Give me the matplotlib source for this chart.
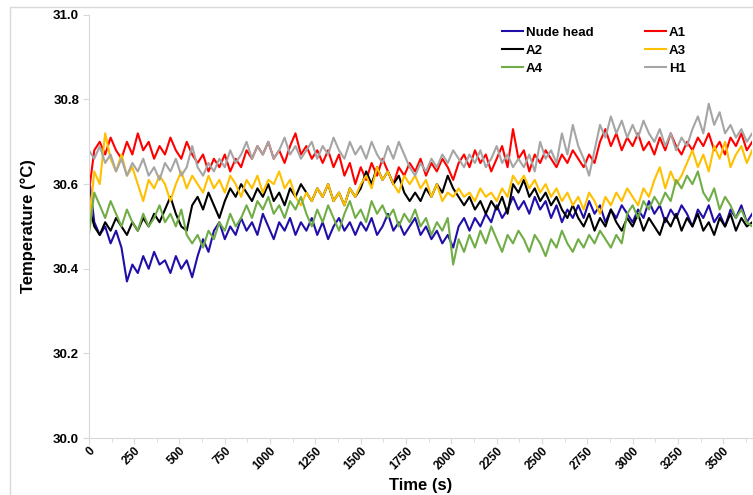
import numpy as np
import matplotlib
matplotlib.use("Agg")
import matplotlib.pyplot as plt
from matplotlib.ticker import MultipleLocator, FormatStrFormatter

## READINGS (every 30 s)
time_s_ = np.arange(0, 3661, 30)

nude_head_ = [30.62, 30.51, 30.48, 30.50, 30.46, 30.49, 30.45, 30.37, 30.41, 30.39,
              30.43, 30.40, 30.44, 30.41, 30.42, 30.39, 30.43, 30.40, 30.42, 30.38,
              30.43, 30.47, 30.44, 30.49, 30.51, 30.47, 30.50, 30.48, 30.52, 30.49,
              30.51, 30.48, 30.53, 30.50, 30.47, 30.51, 30.49, 30.52, 30.48, 30.51,
              30.49, 30.52, 30.48, 30.51, 30.47, 30.50, 30.52, 30.49, 30.51, 30.48,
              30.51, 30.49, 30.52, 30.48, 30.50, 30.53, 30.49, 30.51, 30.48, 30.50,
              30.52, 30.48, 30.50, 30.47, 30.49, 30.46, 30.48, 30.45, 30.50, 30.52,
              30.49, 30.52, 30.50, 30.53, 30.51, 30.55, 30.52, 30.54, 30.57, 30.54,
              30.56, 30.53, 30.57, 30.54, 30.56, 30.52, 30.55, 30.51, 30.54, 30.52,
              30.55, 30.52, 30.56, 30.53, 30.55, 30.51, 30.54, 30.52, 30.55, 30.53,
              30.51, 30.54, 30.52, 30.56, 30.53, 30.55, 30.51, 30.54, 30.52, 30.55,
              30.53, 30.50, 30.54, 30.52, 30.55, 30.51, 30.53, 30.50, 30.54, 30.52,
              30.55, 30.51, 30.53]

a1_ = [30.58, 30.68, 30.70, 30.67, 30.71, 30.68, 30.66, 30.70, 30.67, 30.72,
       30.68, 30.70, 30.66, 30.69, 30.67, 30.71, 30.68, 30.66, 30.70, 30.67,
       30.65, 30.67, 30.63, 30.66, 30.64, 30.67, 30.63, 30.66, 30.64, 30.68,
       30.66, 30.69, 30.67, 30.70, 30.66, 30.68, 30.65, 30.69, 30.72, 30.67,
       30.69, 30.66, 30.68, 30.65, 30.68, 30.64, 30.67, 30.62, 30.65, 30.60,
       30.64, 30.61, 30.65, 30.62, 30.66, 30.63, 30.60, 30.64, 30.62, 30.65,
       30.63, 30.66, 30.62, 30.65, 30.63, 30.66, 30.64, 30.61, 30.65, 30.67,
       30.64, 30.68, 30.65, 30.67, 30.63, 30.66, 30.69, 30.64, 30.73, 30.66,
       30.68, 30.63, 30.67, 30.65, 30.68, 30.66, 30.64, 30.67, 30.65, 30.68,
       30.66, 30.64, 30.67, 30.65, 30.70, 30.73, 30.69, 30.72, 30.68, 30.71,
       30.69, 30.72, 30.68, 30.70, 30.67, 30.71, 30.68, 30.72, 30.69, 30.67,
       30.70, 30.68, 30.71, 30.69, 30.72, 30.68, 30.70, 30.67, 30.71, 30.69,
       30.72, 30.68, 30.70]

a2_ = [30.55, 30.50, 30.48, 30.51, 30.49, 30.52, 30.50, 30.48, 30.51, 30.49,
       30.52, 30.50, 30.53, 30.51, 30.54, 30.57, 30.53, 30.50, 30.49, 30.55,
       30.57, 30.54, 30.58, 30.55, 30.52, 30.56, 30.59, 30.57, 30.60, 30.58,
       30.56, 30.59, 30.57, 30.60, 30.56, 30.58, 30.55, 30.59, 30.57, 30.60,
       30.58, 30.56, 30.59, 30.57, 30.60, 30.56, 30.58, 30.55, 30.59, 30.57,
       30.59, 30.63, 30.60, 30.64, 30.61, 30.63, 30.60, 30.62, 30.58, 30.56,
       30.58, 30.56, 30.59, 30.57, 30.60, 30.58, 30.62, 30.59, 30.57, 30.55,
       30.57, 30.54, 30.56, 30.53, 30.56, 30.54, 30.57, 30.53, 30.60, 30.58,
       30.61, 30.57, 30.59, 30.56, 30.58, 30.55, 30.57, 30.54, 30.52, 30.55,
       30.52, 30.50, 30.53, 30.49, 30.52, 30.50, 30.54, 30.51, 30.49, 30.52,
       30.50, 30.53, 30.49, 30.52, 30.50, 30.48, 30.52, 30.50, 30.53, 30.49,
       30.52, 30.50, 30.53, 30.49, 30.51, 30.48, 30.52, 30.50, 30.53, 30.49,
       30.52, 30.50, 30.51]

a3_ = [30.50, 30.63, 30.60, 30.72, 30.66, 30.63, 30.67, 30.62, 30.64, 30.60,
       30.56, 30.61, 30.59, 30.62, 30.60, 30.56, 30.60, 30.63, 30.59, 30.62,
       30.60, 30.58, 30.62, 30.59, 30.61, 30.58, 30.62, 30.60, 30.57, 30.61,
       30.59, 30.62, 30.58, 30.61, 30.60, 30.63, 30.59, 30.61, 30.57, 30.55,
       30.58, 30.56, 30.59, 30.57, 30.60, 30.56, 30.58, 30.55, 30.59, 30.57,
       30.60, 30.62, 30.59, 30.64, 30.61, 30.63, 30.60, 30.58, 30.62, 30.60,
       30.62, 30.59, 30.61, 30.57, 30.60, 30.56, 30.58, 30.57, 30.59, 30.57,
       30.58, 30.56, 30.59, 30.57, 30.58, 30.56, 30.59, 30.57, 30.62, 30.60,
       30.62, 30.59, 30.61, 30.58, 30.60, 30.57, 30.59, 30.56, 30.58, 30.55,
       30.57, 30.54, 30.58, 30.56, 30.53, 30.57, 30.55, 30.58, 30.56, 30.59,
       30.57, 30.55, 30.59, 30.57, 30.61, 30.64, 30.59, 30.63, 30.60, 30.62,
       30.65, 30.68, 30.64, 30.67, 30.63, 30.69, 30.66, 30.70, 30.64, 30.67,
       30.69, 30.65, 30.68]

a4_ = [30.48, 30.58, 30.55, 30.52, 30.56, 30.53, 30.50, 30.54, 30.51, 30.49,
       30.53, 30.50, 30.52, 30.55, 30.51, 30.53, 30.50, 30.54, 30.48, 30.46,
       30.48, 30.45, 30.49, 30.47, 30.51, 30.49, 30.53, 30.50, 30.52, 30.55,
       30.52, 30.56, 30.54, 30.57, 30.53, 30.55, 30.52, 30.56, 30.54, 30.57,
       30.53, 30.50, 30.54, 30.51, 30.55, 30.52, 30.49, 30.53, 30.56, 30.52,
       30.54, 30.51, 30.56, 30.53, 30.55, 30.52, 30.54, 30.50, 30.53, 30.51,
       30.54, 30.50, 30.52, 30.48, 30.51, 30.49, 30.52, 30.41, 30.47, 30.44,
       30.48, 30.45, 30.49, 30.46, 30.50, 30.47, 30.44, 30.48, 30.46, 30.49,
       30.47, 30.44, 30.48, 30.46, 30.43, 30.47, 30.45, 30.49, 30.46, 30.44,
       30.47, 30.45, 30.48, 30.46, 30.49, 30.47, 30.45, 30.48, 30.46, 30.53,
       30.55, 30.52, 30.56, 30.54, 30.57, 30.55, 30.58, 30.56, 30.61, 30.59,
       30.62, 30.60, 30.63, 30.58, 30.56, 30.59, 30.54, 30.57, 30.55, 30.52,
       30.54, 30.51, 30.50]

h1_ = [30.68, 30.66, 30.69, 30.65, 30.67, 30.63, 30.66, 30.62, 30.65, 30.63,
       30.66, 30.62, 30.64, 30.61, 30.65, 30.63, 30.66, 30.62, 30.64, 30.69,
       30.64, 30.62, 30.65, 30.63, 30.66, 30.64, 30.68, 30.65, 30.67, 30.70,
       30.66, 30.69, 30.67, 30.70, 30.66, 30.68, 30.71, 30.67, 30.69, 30.66,
       30.68, 30.70, 30.66, 30.69, 30.67, 30.71, 30.68, 30.66, 30.70, 30.67,
       30.69, 30.66, 30.70, 30.67, 30.65, 30.69, 30.66, 30.70, 30.67, 30.64,
       30.62, 30.65, 30.63, 30.66, 30.64, 30.67, 30.65, 30.68, 30.66, 30.64,
       30.67, 30.65, 30.68, 30.64, 30.66, 30.69, 30.65, 30.67, 30.64, 30.66,
       30.64, 30.67, 30.63, 30.70, 30.66, 30.68, 30.65, 30.72, 30.67, 30.74,
       30.69, 30.66, 30.62, 30.68, 30.74, 30.71, 30.76, 30.72, 30.75, 30.71,
       30.74, 30.71, 30.75, 30.72, 30.70, 30.73, 30.69, 30.72, 30.68, 30.71,
       30.69, 30.73, 30.76, 30.72, 30.79, 30.74, 30.77, 30.72, 30.74, 30.71,
       30.73, 30.70, 30.72]

series_names_ = ["Nude head", "A1", "A2", "A3", "A4", "H1"]
series_data_ = [nude_head_, a1_, a2_, a3_, a4_, h1_]
series_colors_ = ["#1f0fa8", "#ff0000", "#000000", "#ffc000", "#70ad47", "#a5a5a5"]

plt.rcParams["font.family"] = ["Liberation Sans", "DejaVu Sans"]
plt.rcParams["font.weight"] = "bold"

fig = plt.figure(figsize=(7.53, 4.95), dpi=100)
ax = fig.add_axes([0.118, 0.115, 0.881, 0.855])

# outer chart-area border (excel style)
fig.patches.append(plt.Rectangle((10 / 753, -0.1), 1.2, 1.1 - 7 / 495, transform=fig.transFigure,
                                 fill=False, edgecolor="#d9d9d9", linewidth=1.0))

handles_ = {}
for name_, vals_, col_ in zip(series_names_, series_data_, series_colors_):
    ln_, = ax.plot(time_s_, vals_, color=col_, linewidth=1.5, label=name_)
    handles_[name_] = ln_

ax.set_xlim(0, 3660)
ax.set_ylim(30.0, 31.0)
ax.xaxis.set_major_locator(MultipleLocator(250))
ax.xaxis.set_minor_locator(MultipleLocator(125))
ax.yaxis.set_major_locator(MultipleLocator(0.2))
ax.yaxis.set_major_formatter(FormatStrFormatter("%.1f"))

for sp_ in ["top", "right"]:
    ax.spines[sp_].set_visible(False)
for sp_ in ["left", "bottom"]:
    ax.spines[sp_].set_color("#d9d9d9")
ax.tick_params(axis="both", which="both", color="#d9d9d9", direction="out")
ax.tick_params(axis="x", which="major", length=4, labelsize=8.5, pad=1)
ax.tick_params(axis="x", which="minor", length=3)
ax.tick_params(axis="y", length=4, labelsize=9.5, pad=3)
for lab_ in ax.get_xticklabels():
    lab_.set_rotation(45)
    lab_.set_ha("right")
    lab_.set_rotation_mode("anchor")

ax.set_xlabel("Time (s)", fontsize=12, fontweight="bold", labelpad=4)
ax.set_ylabel("Temperature (°C)", fontsize=12, fontweight="bold", labelpad=12)

order_ = ["Nude head", "A2", "A4", "A1", "A3", "H1"]
leg_ = ax.legend([handles_[n_] for n_ in order_], order_, ncol=2, loc="upper left",
                 bbox_to_anchor=(497 / 753, 1 - 21 / 495), bbox_transform=fig.transFigure,
                 frameon=False, fontsize=9.5, handlelength=1.6, handletextpad=0.2,
                 columnspacing=3.9, labelspacing=0.45, borderaxespad=0)
for t_ in leg_.get_texts():
    t_.set_fontweight("bold")

fig.savefig("out.png", dpi=100)
